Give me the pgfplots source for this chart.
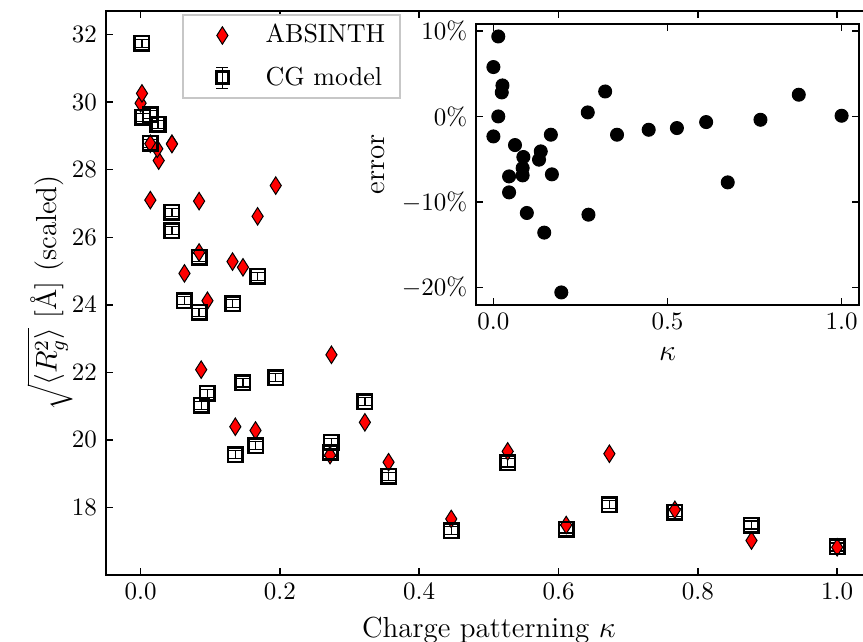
\documentclass[border=0pt]{standalone}
\usepackage{pgfplots}
\pgfplotsset{compat=1.18}
\pgfplotstableread{
x v
0.000 29.97
0.002 30.26
0.014 27.10
0.014 28.77
0.026 28.27
0.024 28.62
0.045 28.77
0.045 28.76
0.063 24.93
0.084 27.07
0.084 25.55
0.087 22.08
0.096 24.12
0.132 25.28
0.136 20.39
0.147 25.11
0.165 20.28
0.168 26.62
0.194 27.53
0.272 19.55
0.274 22.52
0.322 20.52
0.356 19.34
0.446 17.66
0.527 19.66
0.611 17.48
0.673 19.59
0.767 17.93
0.877 17.02
1.000 16.82
}\absinth
\pgfplotstableread{
x v e
0.002 31.74 0.12
0.003 29.55 0.12
0.014 29.63 0.12
0.014 28.78 0.12
0.026 29.34 0.12
0.024 29.34 0.12
0.045 26.74 0.12
0.045 26.20 0.12
0.063 24.12 0.12
0.084 25.41 0.12
0.084 23.78 0.12
0.087 21.02 0.12
0.096 21.38 0.12
0.132 24.03 0.12
0.136 19.56 0.12
0.147 21.69 0.12
0.165 19.83 0.12
0.168 24.84 0.12
0.194 21.84 0.12
0.272 19.63 0.12
0.274 19.93 0.12
0.322 21.13 0.12
0.356 18.92 0.12
0.446 17.31 0.12
0.527 19.32 0.12
0.611 17.36 0.12
0.673 18.08 0.12
0.767 17.86 0.12
0.877 17.48 0.12
1.000 16.83 0.12
}\cgmodel
\pgfplotstableread{
x err
0.014 9.36
0.000 5.78
0.026 3.63
0.024 2.81
0.014 0.00
0.000 -2.34
0.062 -3.35
0.086 -4.75
0.084 -6.04
0.084 -6.90
0.045 -7.02
0.045 -8.89
0.096 -11.3
0.136 -4.09
0.131 -5.06
0.165 -2.14
0.168 -6.78
0.146 -13.6
0.195 -20.6
0.271 0.47
0.273 -11.5
0.321 2.92
0.355 -2.14
0.446 -1.56
0.527 -1.36
0.611 -0.66
0.673 -7.72
0.767 -0.39
0.877 2.54
1.000 0.08
}\errtab
\pgfplotsset{
  mystyle/.style={
    scale only axis,
    tick align=inside,
    major tick length=2.8pt,
    axis line style={line width=0.8pt},
    every tick/.append style={black, line width=0.6pt},
    tick label style={font=\fontsize{10.4}{12}\selectfont},
    label style={font=\fontsize{11.6}{13}\selectfont},
  }
}
\begin{document}
\begin{tikzpicture}
\path[use as bounding box] (-42.3pt,-26.8pt) rectangle (302.9pt,230pt);
\begin{axis}[
  mystyle,
  at={(0pt,0pt)}, anchor=south west,
  width=306.5pt, height=225.6pt,
  xmin=-0.05, xmax=1.05, ymin=16, ymax=32.7,
  xtick={0,0.2,0.4,0.6,0.8,1.0},
  ytick={18,20,22,24,26,28,30,32},
  xticklabel style={/pgf/number format/.cd, fixed, fixed zerofill, precision=1},
  xlabel={Charge patterning $\kappa$},
  ylabel={$\sqrt{\langle R_g^2\rangle}$ [\AA] (scaled)},
  ylabel style={at={(axis description cs:-0.0734,0.5)}, anchor=center},
  legend cell align=left,
  legend style={at={(0.1,0.995)}, anchor=north west, draw=black!22, line width=0.8pt,
    fill=white, inner xsep=4pt, inner ysep=1.8pt, row sep=4pt,
    font=\fontsize{10.4}{12}\selectfont,
    /tikz/every odd column/.append style={column sep=3.7pt}},
]
\addplot[only marks, mark=diamond*, mark size=3.5pt,
  mark options={fill=red, draw=black, line width=0.4pt, xscale=0.85},
  legend image code/.code={
    \path[draw=none, fill=none] (0pt,0pt) rectangle (23.2pt,0.1pt);
    \path[draw=black, line width=0.4pt] plot[mark=diamond*, mark size=3.5pt,
      mark options={fill=red, draw=black, xscale=0.85}] coordinates {(11.6pt,0pt)};
  }]
  table[x=x, y=v] {\absinth};
\addlegendentry{ABSINTH}
\addplot[only marks, mark=square, mark size=2.9pt,
  mark options={draw=black, line width=1pt},
  legend image code/.code={
    \path[draw=none, fill=none] (0pt,0pt) rectangle (23.2pt,0.1pt);
    \draw[black, line width=0.5pt] (11.6pt,-4.2pt) -- (11.6pt,4.2pt)
      (11.6pt-2.4pt,-4.2pt) -- (11.6pt+2.4pt,-4.2pt)
      (11.6pt-2.4pt,4.2pt) -- (11.6pt+2.4pt,4.2pt);
    \path[draw=black, line width=1pt] plot[mark=square, mark size=2.4pt] coordinates {(11.6pt,0pt)};
  },
  error bars/.cd, y dir=both, y explicit,
  error bar style={line width=0.5pt, black},
  error mark options={rotate=90, mark size=2.6pt, line width=0.5pt, black}]
  table[x=x, y=v, y error=e] {\cgmodel};
\addlegendentry{CG model}
\end{axis}
\begin{axis}[
  mystyle,
  at={(148.1pt,108pt)}, anchor=south west,
  width=153.2pt, height=112.4pt,
  xmin=-0.05, xmax=1.05, ymin=-22.07, ymax=10.82,
  xtick={0,0.5,1},
  ytick={-20,-10,0,10},
  xticklabel style={/pgf/number format/.cd, fixed, fixed zerofill, precision=1},
  yticklabel={$\pgfmathprintnumber{\tick}\%$},
  xlabel={$\kappa$},
  ylabel={error},
  axis background/.style={fill=white},
]
\addplot[only marks, mark=*, mark size=2.6pt, black] table[x=x, y=err] {\errtab};
\end{axis}
\end{tikzpicture}
\end{document}
